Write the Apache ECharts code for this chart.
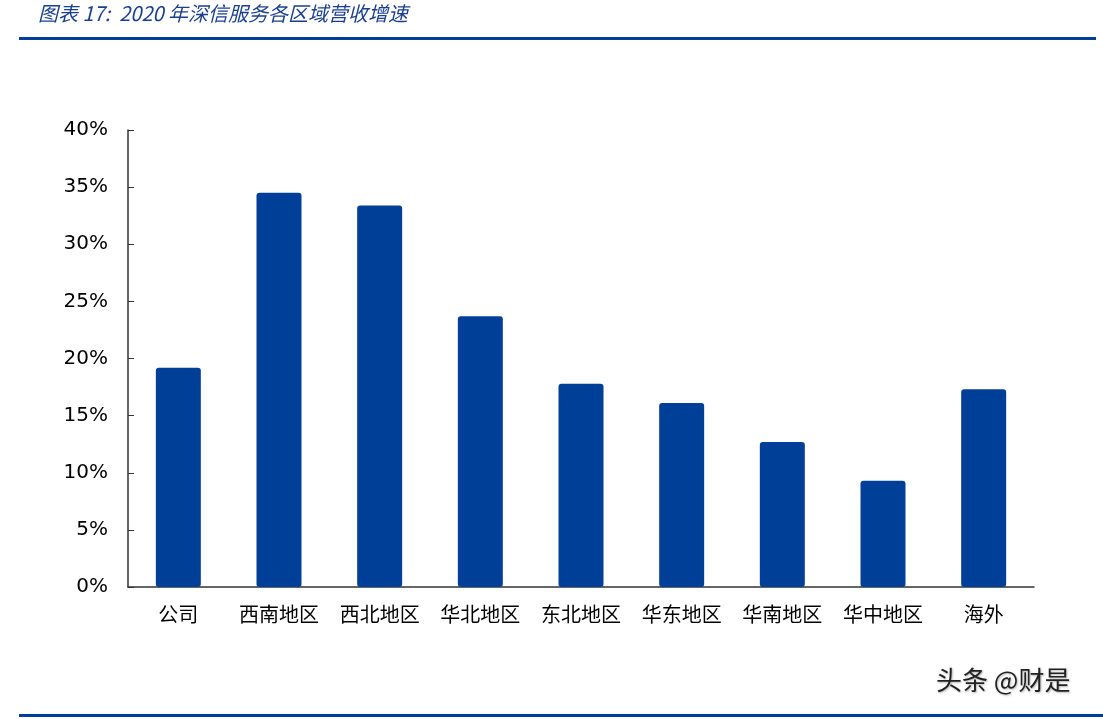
<!DOCTYPE html>
<html>
<head>
<meta charset="utf-8">
<script src="https://cdn.jsdelivr.net/npm/echarts@6/dist/echarts.min.js"></script>
<style>html,body{margin:0;padding:0;background:#fff;}#c{width:1103px;height:719px;}</style>
</head>
<body>
<div id="c"></div>
<script>
const categories = ['公司','西南地区','西北地区','华北地区','东北地区','华东地区','华南地区','华中地区','海外'];
const growth = [19.2, 34.5, 33.4, 23.7, 17.8, 16.1, 12.7, 9.3, 17.3];
const titleText = '图表 17:  2020 年深信服务各区域营收增速';
const watermark = '头条 @财是';

const chart = echarts.init(document.getElementById('c'));
chart.setOption({
  backgroundColor: '#fff',
  animation: false,
  grid: { left: 128, right: 69, top: 130, bottom: 132 },
  xAxis: {
    type: 'category',
    data: categories,
    axisLine: { lineStyle: { color: '#333', width: 1.5 } },
    axisTick: { inside: true, length: 6, lineStyle: { color: '#333' } },
    axisLabel: { color: '#000', fontSize: 20, margin: 17, interval: 0, hideOverlap: false, fontFamily: 'Noto Sans CJK SC' }
  },
  yAxis: {
    type: 'value',
    min: 0, max: 40, interval: 5,
    axisLine: { show: true, lineStyle: { color: '#333', width: 1.5 } },
    axisTick: { show: true, inside: true, length: 6, lineStyle: { color: '#333' } },
    splitLine: { show: false },
    axisLabel: { color: '#000', fontSize: 20, margin: 20, formatter: '{value}%', fontFamily: 'DejaVu Sans' }
  },
  series: [{
    type: 'bar',
    data: growth,
    barWidth: 45,
    itemStyle: { color: '#003f98', borderRadius: 3 }
  }],
  graphic: [
    { type: 'text', left: 38, top: 3, style: { text: titleText, fill: '#1a3f8f', font: 'italic 20px "Noto Sans CJK SC"' } },
    { type: 'rect', shape: { x: 19, y: 37, width: 1077, height: 3 }, style: { fill: '#003f98' } },
    { type: 'rect', shape: { x: 19, y: 714, width: 1084, height: 3 }, style: { fill: '#003f98' } },
    { type: 'text', left: 936, top: 667, style: { text: watermark, fill: '#222', font: '26px "Noto Sans CJK SC"', textShadowColor: 'rgba(0,0,0,0.3)', textShadowBlur: 2, textShadowOffsetX: 1, textShadowOffsetY: 1 } }
  ]
});
</script>
</body>
</html>
